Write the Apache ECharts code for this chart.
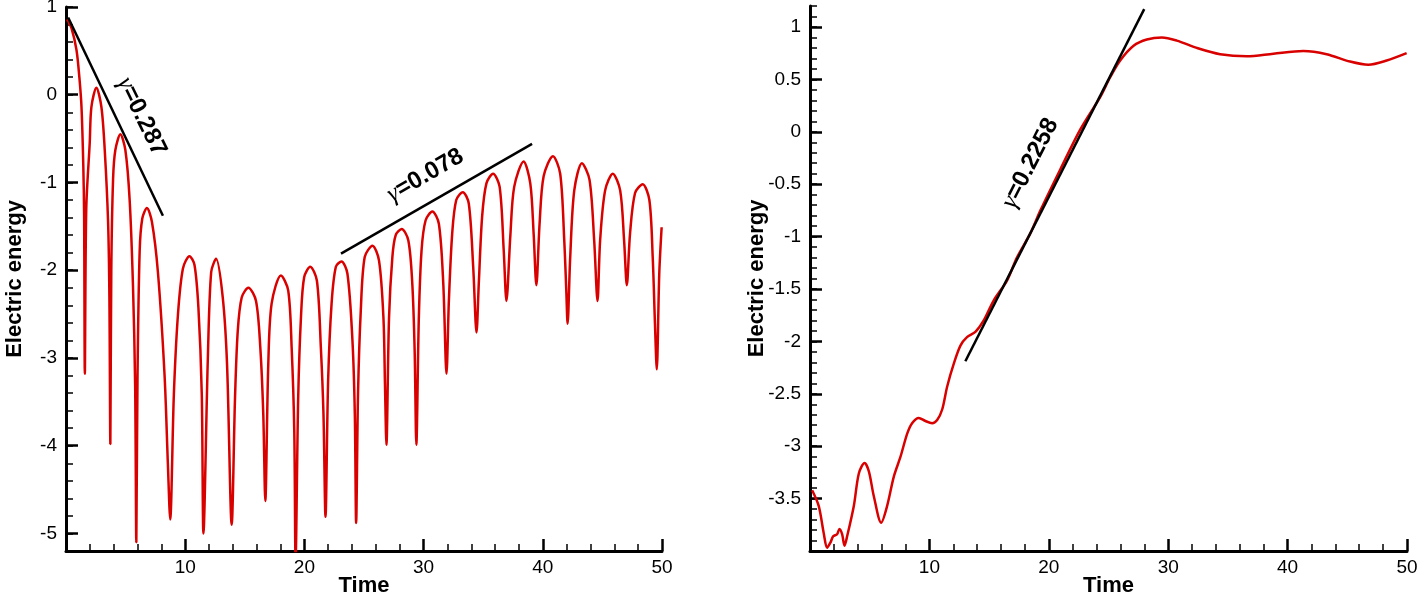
<!DOCTYPE html>
<html>
<head>
<meta charset="utf-8">
<script src="https://cdn.jsdelivr.net/npm/echarts@6/dist/echarts.min.js"></script>
<style>
  html, body { margin: 0; padding: 0; background: #fff; }
  #chart { width: 1418px; height: 597px; }
</style>
</head>
<body>
<div id="chart"></div>
<script>
// left panel: log electric energy, damped then growing oscillation
const leftTime = [
  0.1, 0.46, 0.88, 1.12, 1.3, 1.45, 1.52, 1.58,
  1.7, 1.99, 2.13, 2.55, 2.97, 3.25, 3.53, 3.64, 3.72,
  3.8, 3.95, 4.14, 4.56, 4.98, 5.34, 5.62, 5.8, 5.9,
  6.0, 6.18, 6.4, 6.79, 7.21, 7.71, 8.27, 8.55, 8.74,
  9.05, 9.39, 9.81, 10.36, 10.78, 11.11, 11.39, 11.53,
  11.9, 12.18, 12.59, 13.15, 13.51, 13.9,
  14.18, 14.41, 14.74, 15.3, 15.94, 16.3, 16.55, 16.72,
  16.97, 17.25, 18.03, 18.64, 18.93, 19.15, 19.26,
  19.48, 19.71, 19.98, 20.49, 21.05, 21.38, 21.6, 21.77,
  21.99, 22.28, 22.64, 23.11, 23.61, 24.03, 24.23, 24.34,
  24.5, 24.73, 25.06, 25.71, 26.26, 26.63, 26.76, 26.88,
  27.1, 27.38, 27.66, 28.16, 28.72, 29.05, 29.25, 29.39,
  29.6, 29.83, 30.17, 30.73, 31.28, 31.65, 31.92,
  32.12, 32.4, 32.74, 33.29, 33.79, 34.16, 34.44,
  34.63, 34.91, 35.27, 35.83, 36.38, 36.72, 36.95,
  37.28, 37.6, 38.39, 38.95, 39.23, 39.46,
  39.73, 40.07, 40.85, 41.46, 41.8, 41.97, 42.08,
  42.3, 42.64, 43.28, 43.92, 44.31, 44.59,
  44.81, 45.23, 45.87, 46.49, 46.82, 47.05,
  47.32, 47.74, 48.38, 48.94, 49.22, 49.41, 49.56,
  49.77, 49.97
];
const leftEnergy = [
  0.86, 0.76, 0.51, 0.2, -0.14, -0.8, -1.37, -3.18,
  -1.3, -0.55, -0.14, 0.08, -0.14, -0.63, -1.45, -2.3, -3.98,
  -2.0, -0.96, -0.63, -0.45, -0.63, -1.2, -2.18, -3.3, -5.1,
  -3.2, -1.78, -1.41, -1.29, -1.45, -2.02, -3.2, -4.22, -4.84,
  -3.41, -2.51, -1.98, -1.84, -1.94, -2.43, -3.41, -5.0,
  -3.0, -2.02, -1.87, -2.31, -3.07, -4.9,
  -3.45, -2.69, -2.31, -2.2, -2.35, -2.88, -3.64, -4.63,
  -3.07, -2.38, -2.06, -2.23, -2.88, -3.83, -5.3,
  -3.45, -2.54, -2.08, -1.96, -2.12, -2.88, -3.64, -4.81,
  -3.26, -2.38, -1.96, -1.9, -2.04, -2.8, -3.64, -4.88,
  -3.4, -2.46, -1.85, -1.72, -1.89, -2.54, -3.3, -3.99,
  -2.54, -1.85, -1.6, -1.53, -1.66, -2.15, -2.92, -3.99,
  -2.54, -1.77, -1.43, -1.33, -1.47, -2.15, -3.18,
  -2.35, -1.58, -1.2, -1.11, -1.24, -1.96, -2.71,
  -2.15, -1.39, -1.01, -0.9, -1.05, -1.77, -2.35,
  -1.6, -1.05, -0.76, -1.01, -1.58, -2.17,
  -1.47, -0.93, -0.7, -0.9, -1.66, -2.23, -2.61,
  -1.85, -1.09, -0.78, -0.97, -1.66, -2.35,
  -1.66, -1.09, -0.9, -1.09, -1.66, -2.17,
  -1.58, -1.12, -1.02, -1.2, -1.85, -2.61, -3.13,
  -2.04, -1.51
];

// right panel: growth then saturation
const rightTime = [
  0.18, 0.73, 1.15, 1.43, 1.71, 1.94, 2.27, 2.47, 2.69, 2.89, 3.11,
  3.67, 4.09, 4.57, 4.93, 5.35, 5.96, 6.46, 7.02, 7.58, 8.14, 8.55,
  9.11, 9.67, 10.23, 10.65, 11.07, 11.49, 12.05, 12.6, 13.15, 13.85,
  14.55, 15.38, 16.5, 17.33, 18.45, 19.3, 20.96, 22.63, 24.3, 25.14,
  25.98, 27.1, 28.21, 29.47, 30.72, 32.4, 34.35, 36.58, 38.81, 41.32,
  43.27, 45.23, 46.76, 48.3, 49.97
];
const rightEnergy = [
  -3.42, -3.57, -3.83, -3.97, -3.92, -3.86, -3.84, -3.79, -3.84, -3.95, -3.86,
  -3.57, -3.26, -3.16, -3.24, -3.48, -3.73, -3.57, -3.29, -3.1, -2.88, -2.78,
  -2.73, -2.76, -2.78, -2.75, -2.65, -2.43, -2.21, -2.04, -1.96, -1.91,
  -1.8, -1.61, -1.42, -1.2, -0.97, -0.75, -0.36, 0.02, 0.33, 0.52,
  0.68, 0.82, 0.88, 0.9, 0.87, 0.8, 0.74, 0.72, 0.745, 0.77,
  0.74, 0.67, 0.64, 0.68, 0.75
];

// fitted growth/decay rate lines
const decayFitTime = [0.18, 8.13];
const decayFitEnergy = [0.88, -1.38];
const regrowFitTime = [23.07, 39.1];
const regrowFitEnergy = [-1.81, -0.56];
const linearFitTime = [13.01, 27.99];
const linearFitEnergy = [-2.19, 1.17];
const gammaValues = ['0.287', '0.078', '0.2258'];

const leftYTicks = [-5, -4, -3, -2, -1, 0, 1];
const rightYTicks = [-3.5, -3, -2.5, -2, -1.5, -1, -0.5, 0, 0.5, 1];
const xTicks = [10, 20, 30, 40, 50];

const zip = (xs, ys) => xs.map((x, i) => [x, ys[i]]);
const minorList = (lo, hi, step) => {
  const out = [];
  for (let v = lo; v <= hi + 1e-9; v += step) out.push(Math.round(v * 100) / 100);
  return out;
};

const chart = echarts.init(document.getElementById('chart'));

const FONT = 'Liberation Sans, Arial, Helvetica, sans-serif';
const RED = '#d90000';
const axisLine = { show: true, onZero: false, lineStyle: { color: '#000', width: 3 } };
const labelStyle = { color: '#000', fontSize: 19, fontFamily: FONT };
const nameStyle = { color: '#000', fontSize: 22, fontWeight: 'bold', fontFamily: FONT };

function xAxisFor(gridIndex) {
  return {
    type: 'value', gridIndex, min: 0, max: 50, interval: 10,
    axisLine,
    axisTick: { show: true, inside: true, length: 12, lineStyle: { color: '#000', width: 2.5 } },
    minorTick: { show: true, splitNumber: 5, length: 7, lineStyle: { color: '#000', width: 1.5 } },
    axisLabel: { ...labelStyle, margin: 7, customValues: xTicks },
    splitLine: { show: false },
    name: 'Time', nameLocation: 'middle', nameGap: 24, nameMoveOverlap: false,
    nameTextStyle: { ...nameStyle, verticalAlign: 'top' }
  };
}

function yMajor(gridIndex, min, max, ticks, gap) {
  return {
    type: 'value', gridIndex, min, max, position: 'left',
    axisLine,
    axisTick: { show: true, inside: true, length: 12, customValues: ticks,
      lineStyle: { color: '#000', width: 2.5 } },
    axisLabel: { ...labelStyle, margin: 9, customValues: ticks, formatter: v => String(v) },
    splitLine: { show: false },
    name: 'Electric energy', nameLocation: 'middle', nameGap: gap, nameMoveOverlap: false,
    nameTextStyle: nameStyle
  };
}

function yMinor(gridIndex, min, max, ticks) {
  return {
    type: 'value', gridIndex, min, max, position: 'left', offset: 0,
    axisLine: { show: false },
    axisTick: { show: true, inside: true, length: 7, customValues: ticks,
      lineStyle: { color: '#000', width: 1.5 } },
    axisLabel: { show: false },
    splitLine: { show: false }
  };
}

function gammaLabel(x, y, text, angle, xAxisIndex, yAxisIndex) {
  return {
    type: 'scatter', xAxisIndex, yAxisIndex, symbolSize: 0, silent: true,
    itemStyle: { opacity: 1 },
    data: [[x, y]],
    label: {
      show: true, position: 'inside', rotate: angle, color: '#000', opacity: 1, textBorderWidth: 0,
      formatter: '{g|γ}{n|=' + text + '}',
      rich: {
        g: { fontFamily: 'Liberation Serif, serif', fontStyle: 'italic', fontSize: 25, color: '#000', textBorderWidth: 0 },
        n: { fontFamily: FONT, fontWeight: 'bold', fontSize: 24, color: '#000', textBorderWidth: 0 }
      }
    }
  };
}

const fitLine = (data, xAxisIndex, yAxisIndex) => ({
  type: 'line', xAxisIndex, yAxisIndex, data, showSymbol: false, silent: true,
  lineStyle: { color: '#000', width: 2.5 }
});

chart.setOption({
  animation: false,
  backgroundColor: '#fff',
  grid: [
    { left: 66, top: 7, width: 596, height: 544, outerBoundsMode: 'none', containLabel: false },
    { left: 810, top: 6, width: 597, height: 545, outerBoundsMode: 'none', containLabel: false }
  ],
  xAxis: [xAxisFor(0), xAxisFor(1)],
  yAxis: [
    yMajor(0, -5.2, 1, leftYTicks, 40),
    yMinor(0, -5.2, 1, minorList(-5.2, 1, 0.2)),
    yMajor(1, -4, 1.2, rightYTicks, 42),
    yMinor(1, -4, 1.2, minorList(-4, 1.2, 0.1))
  ],
  series: [
    {
      type: 'line', xAxisIndex: 0, yAxisIndex: 0,
      data: zip(leftTime, leftEnergy), showSymbol: false, smooth: 0.3,
      lineStyle: { color: RED, width: 2.5 }
    },
    fitLine(zip(decayFitTime, decayFitEnergy), 0, 0),
    fitLine(zip(regrowFitTime, regrowFitEnergy), 0, 0),
    {
      type: 'line', xAxisIndex: 1, yAxisIndex: 2,
      data: zip(rightTime, rightEnergy), showSymbol: false, smooth: 0.3,
      lineStyle: { color: RED, width: 2.5 }
    },
    fitLine(zip(linearFitTime, linearFitEnergy), 1, 2),
    gammaLabel(6.35, -0.25, gammaValues[0], -64, 0, 0),
    gammaLabel(30.15, -0.92, gammaValues[1], 30, 0, 0),
    gammaLabel(18.45, -0.3, gammaValues[2], 63, 1, 2)
  ]
});
</script>
</body>
</html>
